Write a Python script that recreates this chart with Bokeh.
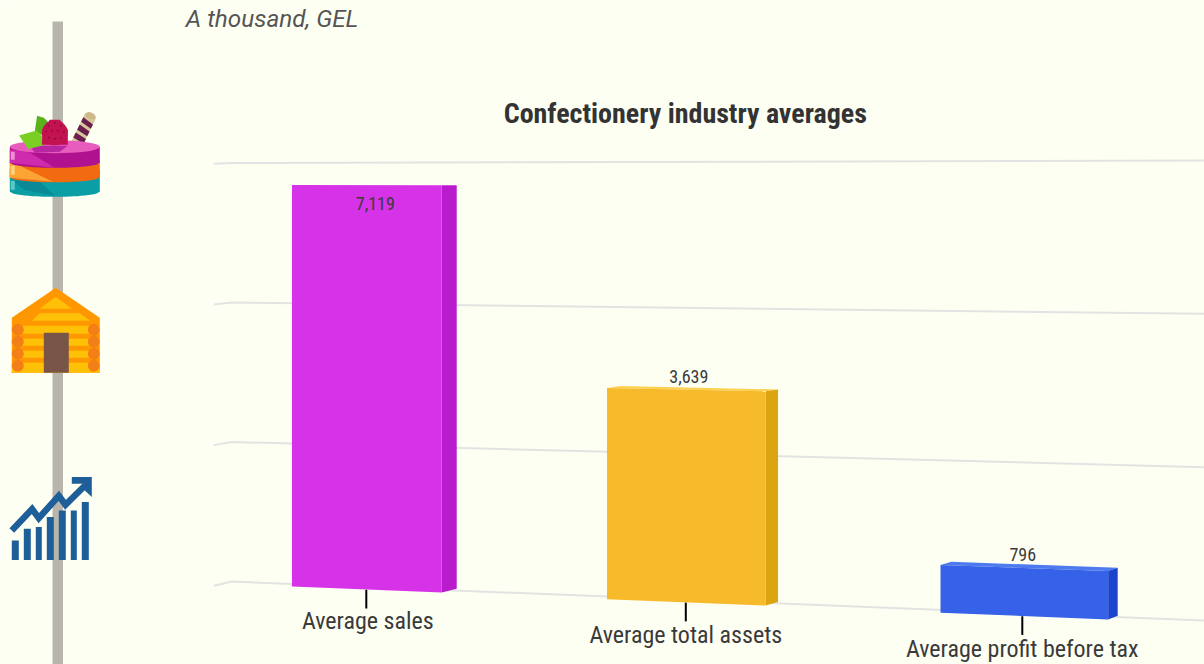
from bokeh.core.properties import value
from bokeh.embed import file_html
from bokeh.models import ColumnDataSource, Range1d
from bokeh.plotting import figure
from bokeh.resources import INLINE

# --- chart data -----------------------------------------------------------
categories = ["Average sales", "Average total assets", "Average profit before tax"]
values = [7119, 3639, 796]
grid_ticks = [0, 2500, 5000, 7500]
title_text = "Confectionery industry averages"
unit_text = "A thousand, GEL"

# --- styling --------------------------------------------------------------
front_colors = ["#d633e8", "#f7ba2b", "#3562e8"]
side_colors = ["#b81ccc", "#dda412", "#1c44cc"]
top_colors = ["#d633e8", "#fdd04f", "#4e7af0"]
label_dx = [9, 3, -1]
BG = "#feFFF3"
TEXT = "#3a3a3a"
FONT = "Roboto Condensed"
W, H = 1204, 664
NUDGE = 0.7


# --- hand-rolled perspective: category position and value to page pixels ---
def sx(u):
    return 366.5 + 310.25 * u + 9.25 * u * u


def floor_y(x):
    return 586.7 + (x - 292) * 0.0403


def unit_px(x):
    return 0.0564 + (x - 292) * 5.3e-6


def front_y(x, v):
    return floor_y(x) - v * unit_px(x)


def wall_y(x, v):
    base = 581.7 + (x - 232) * 0.0401
    return base - v * (0.0558 + (x - 232) * 5.69e-6)


def back_point(x, v):
    dx = 15 - (x - 441) * 0.0082
    y = floor_y(x) - 3.7 - v * unit_px(x) * 0.991
    return x + dx, y


p = figure(width=W, height=H, output_backend="svg", toolbar_location=None,
           x_range=Range1d(NUDGE, W + NUDGE), y_range=Range1d(H + NUDGE, NUDGE), min_border=0,
           background_fill_color=BG, border_fill_color=BG, outline_line_color=None)
p.axis.visible = False
p.grid.visible = False

# --- left hand decoration: pole and three icons ---------------------------
p.quad(left=52.7, right=63.2, top=21.7, bottom=H + 2, fill_color="#b8b5ad", line_color=None)


def poly(xs, ys, color):
    p.patch(xs, ys, fill_color=color, line_color=None)


def cake_layer(y_top, y_bot, color):
    # side band of a round layer: straight sides with a curved lower edge
    n = 24
    xs_low = [10 + 90 * i / n for i in range(n + 1)]
    ys_low = [y_bot + 5 * (1 - ((x - 55) / 45) ** 2) ** 0.5 for x in xs_low]
    poly([10] + xs_low + [100], [y_top] + ys_low + [y_top], color)


def wafer():
    ax0, ay0, ax1, ay1 = 71.5, 141.7, 85.5, 113.5
    bx0, by0, bx1, by1 = 83.3, 145.0, 96.2, 118.3
    poly([ax0, bx0, bx1, ax1], [ay0, by0, by1, ay1], "#d8c79a")

    def left(t):
        return ax0 + (ax1 - ax0) * t, ay0 + (ay1 - ay0) * t

    def right(t):
        return bx0 + (bx1 - bx0) * t, by0 + (by1 - by0) * t

    for t0, t1 in [(0.14, 0.32), (0.42, 0.60), (0.70, 0.86)]:
        l0, l1, r1, r0 = left(t0), left(t1), right(t1 - 0.1), right(t0 - 0.1)
        poly([l0[0], l1[0], r1[0], r0[0]], [l0[1], l1[1], r1[1], r0[1]], "#6b1d4e")
    p.ellipse(x=90.8, y=116, width=11, height=6.5, angle=-0.4,
              fill_color="#cdb98b", line_color=None)


wafer()

# cake layers stacked from the bottom up
cake_layer(170, 192, "#0b9ea5")
poly([12, 40, 55, 24], [180, 182, 196, 190], "#0a8a94")
cake_layer(160, 177.5, "#f26b11")
poly([10, 18, 53, 10], [163, 165, 182, 178], "#fba333")
cake_layer(147, 163, "#b0128f")
poly([10, 30, 55, 10], [150, 153, 168, 163], "#cf2bad")
p.ellipse(x=55, y=147, width=90, height=13, fill_color="#e85cbd", line_color=None)
poly([30, 68, 60, 35], [146, 146, 152, 153], "#b8279f")
poly([11, 15, 15, 11], [152, 152, 160, 160], "#ee8fd2")
poly([11, 15, 15, 11], [166, 166, 175, 175], "#fcd27a")
poly([11, 15, 15, 11], [181, 181, 190, 190], "#5cc9c9")
poly([37.3, 44, 50, 46, 35], [116, 118, 124, 137, 131.7], "#5ab31b")
poly([19.3, 36.7, 42, 46, 28.3], [135.7, 130.7, 136, 145, 149.3], "#7bcf24")
poly([50, 60, 68, 68, 42, 43], [120, 120, 130, 145, 145, 130], "#c2124f")
p.ellipse(x=55, y=133, width=26, height=25, fill_color="#c2124f", line_color=None)
p.scatter(x=[49, 55, 61, 46, 52, 58, 64, 49, 55, 61],
          y=[126, 123, 126, 132, 131, 131, 132, 138, 139, 138],
          size=2, fill_color="#8c0d3c", line_color=None)

# log cabin
poly([12, 56, 100, 100, 12], [318, 288, 318, 373, 373], "#ff9800")
poly([40, 56, 72], [309, 297, 309], "#ffc107")
poly([32, 40, 80, 90], [321, 313.5, 313.5, 321], "#ffc107")
for y0, y1 in [(326, 334), (339, 346), (351, 358), (363, 373)]:
    p.quad(left=12, right=100, top=y0, bottom=y1, fill_color="#ffc107", line_color=None)
p.quad(left=44, right=69, top=333, bottom=373, fill_color="#795548", line_color=None)
for cy in (330, 342, 354, 366):
    for cx in (18, 94):
        p.circle(x=cx, y=cy, radius=6, fill_color="#f57f17", line_color=None)

# rising bars with arrow
GROWTH = "#1f5f99"
for x0, x1, y0 in [(12, 19, 540.7), (24, 31, 529), (36, 42, 527.3), (47, 54, 517.3),
                   (59, 66, 510.7), (71, 77, 510.7), (82, 89, 502.3)]:
    p.quad(left=x0, right=x1, top=y0, bottom=560.3, fill_color=GROWTH, line_color=None)
p.line([12, 32.3, 39, 59, 65.7, 86], [530.7, 509.3, 518.3, 496, 505, 485],
       line_color=GROWTH, line_width=6.5, line_join="miter")
poly([72, 92, 92, 85, 85, 72], [477.3, 477.3, 497.3, 490.7, 484, 484], GROWTH)

# --- back wall gridlines --------------------------------------------------
for tick in grid_ticks:
    x_hook = 214
    y_hook = wall_y(232, tick) + 3.5 * (1 - tick / grid_ticks[-1]) + 0.8
    p.line([x_hook, 232, W + 2], [y_hook, wall_y(232, tick), wall_y(W + 2, tick)],
           line_color="#e3e3e3", line_width=2)

# --- bars, each drawn as front, side and top faces ------------------------
half = 0.2414
for i, v in enumerate(values):
    xl, xr = sx(i - half), sx(i + half)
    bxr_top, byr_top = back_point(xr, v)
    bxr_bot, byr_bot = back_point(xr, 0)
    bxl_top, byl_top = back_point(xl, v)
    p.patch([xl, xr, bxr_top, bxl_top], [front_y(xl, v), front_y(xr, v), byr_top, byl_top],
            fill_color=top_colors[i], line_color=None)
    p.patch([xr, bxr_top, bxr_bot, xr], [front_y(xr, v), byr_top, byr_bot, front_y(xr, 0)],
            fill_color=side_colors[i], line_color=None)
    p.patch([xl, xr, xr, xl], [front_y(xl, v), front_y(xr, v), front_y(xr, 0), front_y(xl, 0)],
            fill_color=front_colors[i], line_color=None)

# --- tick marks, category and value labels --------------------------------
centers = [sx(i) - (1.5 if i == 2 else 0) for i in range(len(values))]
p.segment(x0=centers, y0=[floor_y(c) + 0.3 for c in centers],
          x1=centers, y1=[floor_y(c) + 19 for c in centers],
          line_color="#000000", line_width=2)

labels = ColumnDataSource(dict(
    x=[c + (1.5 if i == 0 else 0) for i, c in enumerate(centers)],
    y=[floor_y(c) + 31.5 + i for i, c in enumerate(centers)],
    text=categories))
p.text(x="x", y="y", text="text", source=labels, text_align="center", text_baseline="middle",
       text_font=value(FONT), text_font_size="24px", text_color=TEXT)

top_value = max(values)
value_labels = ColumnDataSource(dict(
    x=[sx(i) + label_dx[i] for i in range(len(values))],
    y=[front_y(sx(i), v) + (18 if v == top_value else -13.5) for i, v in enumerate(values)],
    text=[f"{v:,}" for v in values]))
p.text(x="x", y="y", text="text", source=value_labels, text_align="center", text_baseline="middle",
       text_font=value(FONT), text_font_size="18px", text_color=TEXT)

p.text(x=[685.5], y=[114], text=[title_text], text_align="center", text_baseline="middle",
       text_font=value(FONT), text_font_size="28px", text_font_style="bold", text_color="#333333")
p.text(x=[186], y=[19], text=[unit_text], text_align="left", text_baseline="middle",
       text_font=value("Roboto"), text_font_size="24.3px", text_font_style="italic", text_color="#555555")

open("out.html", "w").write(file_html(p, INLINE))
